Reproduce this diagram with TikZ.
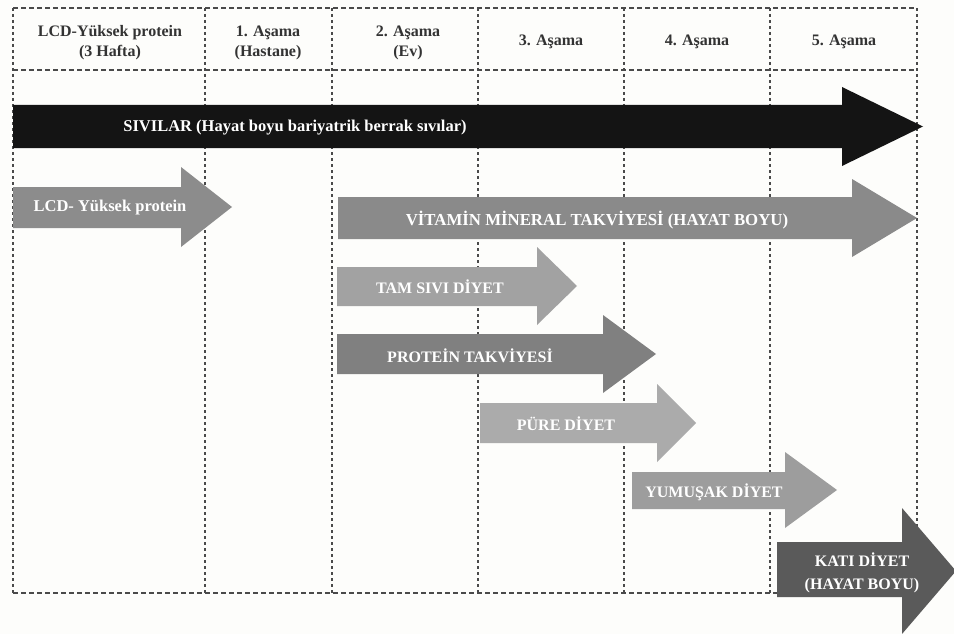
\documentclass[tikz,border=0pt]{standalone}
\usepackage{fontspec}
\setmainfont{Liberation Serif}
\definecolor{bgc}{HTML}{FDFDFB}
\definecolor{gridc}{HTML}{4A4A4A}
\definecolor{cblack}{HTML}{141414}
\definecolor{clcd}{HTML}{8C8C8C}
\definecolor{cvit}{HTML}{8A8A8A}
\definecolor{ctam}{HTML}{A2A2A2}
\definecolor{cprot}{HTML}{808080}
\definecolor{cpure}{HTML}{ABABAB}
\definecolor{cyum}{HTML}{9D9D9D}
\definecolor{ckati}{HTML}{5A5A5A}
\newcommand\flowarrow[8]{%
  \fill[#8] (#1,#2) -- (#4,#2) -- (#4,#5) -- (#7,{(#5+#6)/2}) -- (#4,#6) -- (#4,#3) -- (#1,#3) -- cycle;}
\tikzset{
  hline/.style={draw=gridc, line width=1.4pt, dash pattern=on 4.5pt off 3.5pt},
  vline/.style={draw=gridc, line width=1.4pt, dash pattern=on 3pt off 3pt},
  headtext/.style={font=\bfseries\fontsize{16}{20}\selectfont, text=black!80, align=center, inner sep=0pt},
  arrtext/.style={font=\bfseries\fontsize{16}{23}\selectfont, text=white, align=center, inner sep=0pt},
  vittext/.style={font=\bfseries\fontsize{16.8}{20}\selectfont, text=white, inner sep=0pt},
  mixtext/.style={font=\bfseries\fontsize{16.5}{20}\selectfont, text=white, inner sep=0pt}
}
\begin{document}
\begin{tikzpicture}[x=1pt,y=-1pt]
\useasboundingbox[fill=bgc] (0,0) rectangle (954,634);
% grid
\foreach \yy in {8,70,593} \draw[hline] (13,\yy) -- (917,\yy);
\foreach \xx in {13,205,332,478,624,770,917} \draw[vline] (\xx,8) -- (\xx,593);
% headers
\node[headtext] (h0) at (110,43) {LCD-Yüksek protein\\(3 Hafta)};
\node[headtext] (h1) at (268,43) {1. Aşama\\(Hastane)};
\node[headtext] (h2) at (408,43) {2. Aşama\\(Ev)};
\node[headtext] (h3) at (551,42) {3. Aşama};
\node[headtext] (h4) at (697,42) {4. Aşama};
\node[headtext] (h5) at (844,42) {5. Aşama};
% arrows
\flowarrow{13}{105}{148}{842}{87}{166}{923}{cblack}
\flowarrow{13}{187}{228}{181}{167}{247}{232}{clcd}
\flowarrow{338}{197}{239}{852}{179}{257}{917}{cvit}
\flowarrow{337}{267}{306}{537}{247}{325}{577}{ctam}
\flowarrow{337}{334}{374}{603}{315}{393}{656}{cprot}
\flowarrow{480}{403}{443}{657}{384}{462}{696}{cpure}
\flowarrow{632}{472}{509}{785}{452}{528}{837}{cyum}
\flowarrow{777}{542}{597}{902}{508}{634}{956}{ckati}
% arrow labels
\node[mixtext] (sivi) at (295,128) {SIVILAR (Hayat boyu bariyatrik berrak sıvılar)};
\node[mixtext] (lcd) at (110,208) {LCD- Yüksek protein};
\node[vittext] (vit) at (597,220) {VİTAMİN MİNERAL TAKVİYESİ (HAYAT BOYU)};
\node[arrtext] (tam) at (440,287) {TAM SIVI DİYET};
\node[arrtext] (prot) at (470,356) {PROTEİN TAKVİYESİ};
\node[arrtext] (pure) at (566,424) {PÜRE DİYET};
\node[arrtext] (yum) at (714,492) {YUMUŞAK DİYET};
\node[arrtext] (kati) at (862,573) {KATI DİYET\\(HAYAT BOYU)};
\end{tikzpicture}
\end{document}
